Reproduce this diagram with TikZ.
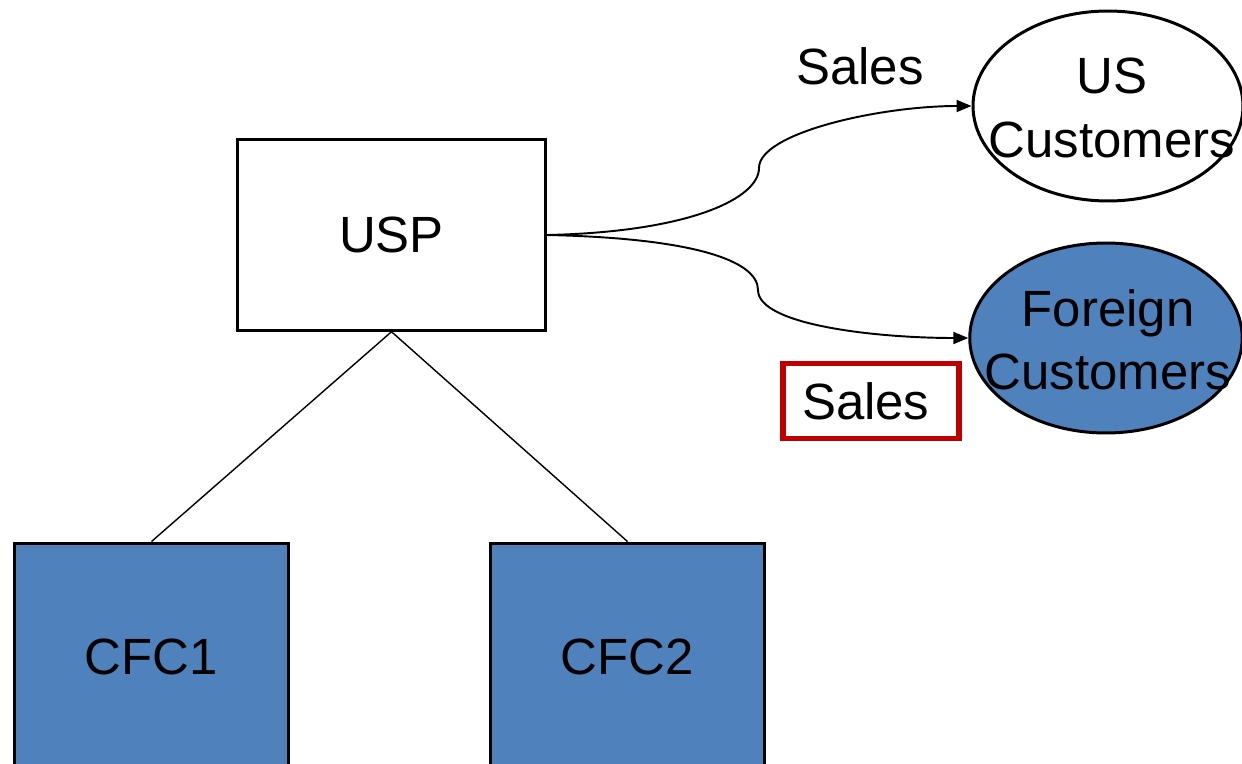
\documentclass[tikz,border=0pt]{standalone}
\usepackage{fontspec}
\setmainfont{Liberation Sans}
\usetikzlibrary{arrows.meta,shapes.geometric}
\definecolor{cfcblue}{HTML}{4F81BD}
\definecolor{boxred}{HTML}{C00000}

\begin{document}
\begin{tikzpicture}[x=0.02cm,y=-0.02cm,>={Triangle[length=0.3cm,width=0.24cm]},
                    font=\fontsize{29}{36}\selectfont]
  \tikzstyle{entity}=[draw,line width=1.7pt,inner sep=0pt]
  \tikzstyle{customer}=[entity,ellipse]
  \tikzstyle{sale}=[->,line width=1.1pt]

  \useasboundingbox (0,0) rectangle (1242,764);
  \clip (0,0) rectangle (1242,764);

  \node[entity,minimum width=6.15cm,minimum height=3.81cm] (usp)  at (391.5,235) {USP};
  \node[entity,fill=cfcblue,minimum width=5.5cm,minimum height=4.56cm] (cfc1) at (151.5,657) {CFC1};
  \node[entity,fill=cfcblue,minimum width=5.5cm,minimum height=4.56cm] (cfc2) at (627.5,657) {CFC2};

  \node[customer,minimum width=5.4cm,minimum height=3.8cm] (us) at (1108,106) {};
  \node[align=center] (ustext) at (1112,108) {US\\Customers};
  \node[customer,fill=cfcblue,minimum width=5.45cm,minimum height=3.8cm] (foreign) at (1106,338) {};
  \node[align=center] (foreigntext) at (1108,340) {Foreign\\Customers};

  \node (salesus) at (860,66) {Sales};
  \node[draw=boxred,line width=3.3pt,inner xsep=0.38cm,text width=2.76cm,align=left,
        minimum height=1.5cm] (salesfor) at (871,401) {Sales};

  \coordinate (kus) at (759,168);
  \coordinate (kfor) at (758,290);

  \draw[line width=0.8pt] (usp.south) -- (cfc1.north);
  \draw[line width=0.8pt] (usp.south) -- (cfc2.north);

  \draw[sale] (usp.east) .. controls +(144,-3) and +(0,30) .. (kus)
                         .. controls +(0,-35) and +(-92,0) .. (us.west);
  \draw[sale] (usp.east) .. controls +(144,3) and +(0,-30) .. (kfor)
                         .. controls +(0,35) and +(-92,0) .. (foreign.west);
\end{tikzpicture}
\end{document}
